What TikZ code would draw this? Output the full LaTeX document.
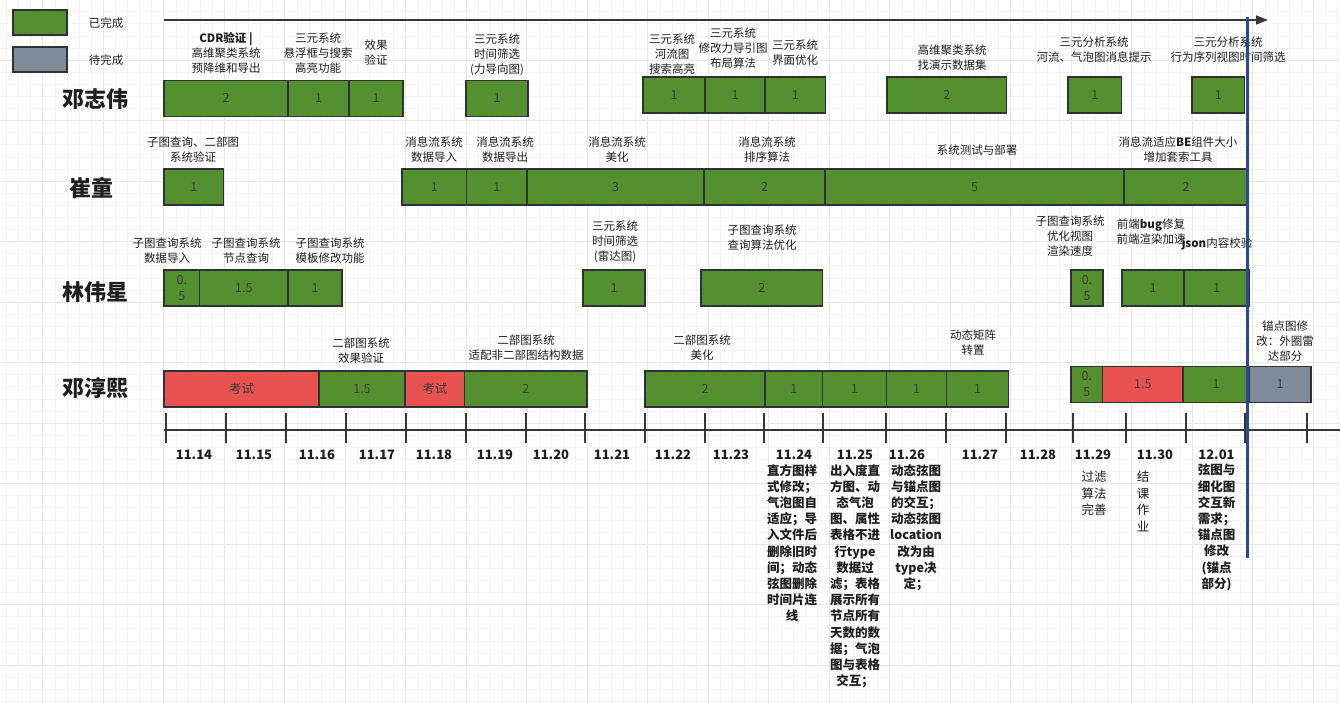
\documentclass[tikz,border=0pt]{standalone}
\usepackage{fontspec}
\setmainfont{Noto Sans CJK SC}
\usetikzlibrary{arrows.meta}
\definecolor{doneGreen}{RGB}{84,143,48}
\definecolor{todoGray}{RGB}{128,139,153}
\definecolor{examRed}{RGB}{232,82,80}
\definecolor{barEdge}{RGB}{45,50,50}
\definecolor{numGray}{RGB}{60,60,60}
\definecolor{labelDark}{RGB}{30,30,30}
\definecolor{axisDark}{RGB}{55,55,55}
\definecolor{nowBlue}{RGB}{48,68,165}
\definecolor{gridMinor}{RGB}{244,244,244}
\definecolor{gridMajor}{RGB}{230,230,230}

\begin{document}
\begin{tikzpicture}[x=1pt, y=-1pt,
    bar/.style={draw=barEdge, line width=1.2pt, minimum height=36, inner sep=0pt, align=center,
        text=numGray, font=\fontsize{12.5}{16}\selectfont},
    done/.style={bar, fill=doneGreen},
    todo/.style={bar, fill=todoGray},
    exam/.style={bar, fill=examRed},
    task/.style={align=center, inner sep=0pt, text=labelDark, font=\fontsize{11.5}{15}\selectfont},
    who/.style={text=labelDark, font=\fontsize{22}{26}\selectfont\bfseries},
    day/.style={text=labelDark, font=\fontsize{13}{16}\selectfont\bfseries},
    note/.style={align=center, anchor=north, inner sep=0pt, text=labelDark, font=\fontsize{12.5}{16.2}\selectfont\bfseries},
    tickmark/.style={draw=axisDark, line width=1.4pt}]
    \useasboundingbox (0,0) rectangle (1340,702);
    \fill[white] (0,0) rectangle (1340,702);

    % background grid
    \begin{scope}[shift={(6.4,-0.5)}]
        \draw[gridMinor, line width=0.6pt, step=12.1pt] (-12.1,-12.1) grid (1345,715);
    \end{scope}
    \begin{scope}[shift={(42.7,-0.5)}]
        \draw[gridMajor, line width=0.8pt, step=60.5pt] (-60.5,-60.5) grid (1340,720);
    \end{scope}

    % legend
    \node[done, minimum width=54, minimum height=25] (lg1) at (40,22.5) {};
    \node[task] (lt1) at (106,23) {已完成};
    \node[todo, minimum width=54, minimum height=25] (lg2) at (40,59.5) {};
    \node[task] (lt2) at (106,60) {待完成};

    % time arrow (top)
    \coordinate (ta) at (164,20);
    \coordinate (tb) at (1268,20);
    \draw[axisDark, line width=1.6pt, -{Triangle[length=12pt,width=9pt]}] (ta) -- (tb);

    % 邓志伟
    \node[who] (n1) at (95,99) {邓志伟};
    \node[done, minimum width=124] (z1) at (226,98.3) {2};
    \node[done, minimum width=61] (z2) at (318.5,98.3) {1};
    \node[done, minimum width=54] (z3) at (376,98.3) {1};
    \node[done, minimum width=62] (z4) at (497,98.3) {1};
    \node[done, minimum width=62] (z5) at (674,95) {1};
    \node[done, minimum width=60] (z6) at (735,95) {1};
    \node[done, minimum width=60.5] (z7) at (795.3,95) {1};
    \node[done, minimum width=119.5] (z8) at (946.8,95) {2};
    \node[done, minimum width=53.5] (z9) at (1094.8,95) {1};
    \node[done, minimum width=52.5] (z10) at (1218.3,95) {1};
    \node[task] (zt1) at (226,53) {\textbf{CDR验证 |}\\高维聚类系统\\预降维和导出};
    \node[task] (zt2) at (318,53) {三元系统\\悬浮框与搜索\\高亮功能};
    \node[task] (zt3) at (376,53) {效果\\验证};
    \node[task] (zt4) at (497,55) {三元系统\\时间筛选\\(力导向图)};
    \node[task] (zt5) at (672,54) {三元系统\\河流图\\搜索高亮};
    \node[task] (zt6) at (733,48) {三元系统\\修改力导引图\\布局算法};
    \node[task] (zt7) at (795,52.5) {三元系统\\界面优化};
    \node[task] (zt8) at (952,57.5) {高维聚类系统\\找演示数据集};
    \node[task] (zt9) at (1094,49.5) {三元分析系统\\河流、气泡图消息提示};
    \node[task] (zt10) at (1228,49.5) {三元分析系统\\行为序列视图时间筛选};

    % 崔童
    \node[who] (n2) at (91,188) {崔童};
    \node[done, minimum width=59.5] (c1) at (193.8,187) {1};
    \node[done, minimum width=64.5] (c2) at (434.3,187) {1};
    \node[done, minimum width=60.5] (c3) at (496.8,187) {1};
    \node[done, minimum width=177] (c4) at (615.5,187) {3};
    \node[done, minimum width=121] (c5) at (764.5,187) {2};
    \node[done, minimum width=299] (c6) at (974.5,187) {5};
    \node[done, minimum width=124] (c7) at (1186,187) {2};
    \node[task] (ct1) at (193,150) {子图查询、二部图\\系统验证};
    \node[task] (ct2) at (434,150) {消息流系统\\数据导入};
    \node[task] (ct3) at (505,150) {消息流系统\\数据导出};
    \node[task] (ct4) at (617,150) {消息流系统\\美化};
    \node[task] (ct5) at (767,150) {消息流系统\\排序算法};
    \node[task] (ct6) at (977,150) {系统测试与部署};
    \node[task] (ct7) at (1178,150) {消息流适应\textbf{BE}组件大小\\增加套索工具};

    % 林伟星
    \node[who] (n3) at (95,292) {林伟星};
    \node[done, minimum width=35.5] (l1) at (181.8,288) {0.\\5};
    \node[done, minimum width=88.5] (l2) at (243.8,288) {1.5};
    \node[done, minimum width=54] (l3) at (315,288) {1};
    \node[done, minimum width=62] (l4) at (614,288) {1};
    \node[done, minimum width=121.5] (l5) at (761.8,288) {2};
    \node[done, minimum width=32] (l6) at (1087,288) {0.\\5};
    \node[done, minimum width=62] (l7) at (1153,288) {1};
    \node[done, minimum width=65] (l8) at (1216.5,288) {1};
    \node[task] (lt3) at (167,250.5) {子图查询系统\\数据导入};
    \node[task] (lt4) at (246,250.5) {子图查询系统\\节点查询};
    \node[task] (lt5) at (330,250.5) {子图查询系统\\模板修改功能};
    \node[task] (lt6) at (615,242) {三元系统\\时间筛选\\(雷达图)};
    \node[task] (lt7) at (762,237.5) {子图查询系统\\查询算法优化};
    \node[task] (lt8) at (1070,236.5) {子图查询系统\\优化视图\\渲染速度};
    \node[task] (lt9) at (1151,231.5) {前端\textbf{bug}修复\\前端渲染加速};
    \node[task] (lt10) at (1217,244) {\textbf{json}内容校验};

    % 邓淳熙
    \node[who] (n4) at (95,388) {邓淳熙};
    \node[exam, minimum width=155] (d1) at (241.5,389) {考试};
    \node[done, minimum width=86] (d2) at (362,389) {1.5};
    \node[exam, minimum width=59.5] (d3) at (434.8,389) {考试};
    \node[done, minimum width=122.5] (d4) at (525.8,389) {2};
    \node[done, minimum width=120] (d5) at (705,389) {2};
    \node[done, minimum width=57.5] (d6) at (793.8,389) {1};
    \node[done, minimum width=64] (d7) at (854.5,389) {1};
    \node[done, minimum width=60] (d8) at (916.5,389) {1};
    \node[done, minimum width=62] (d9) at (977.5,389) {1};
    \node[done, minimum width=31.5] (d10) at (1086.8,384.5) {0.\\5};
    \node[exam, minimum width=80.5] (d11) at (1142.8,384.5) {1.5};
    \node[done, minimum width=66] (d12) at (1216,384.5) {1};
    \node[todo, minimum width=62] (d13) at (1280,384.5) {1};
    \node[task] (dt2) at (361,350.5) {二部图系统\\效果验证};
    \node[task] (dt4) at (526,347.5) {二部图系统\\适配非二部图结构数据};
    \node[task] (dt5) at (702,347.5) {二部图系统\\美化};
    \node[task] (dt9) at (973,343) {动态矩阵\\转置};
    \node[task] (dt13) at (1285,341) {锚点图修\\改：外圈雷\\达部分};

    % date axis
    \coordinate (aa) at (164,430);
    \coordinate (ab) at (1340,430);
    \draw[axisDark, line width=1.6pt] (aa) -- (ab);
    \foreach \x in {166,226,286,346,406,466,526,585,645,705,764,823,886,946,1006,1073,1126,1186,1245,1307}
        \draw[tickmark] (\x,413) -- (\x,443);
    \foreach \x/\d [count=\i] in {194/11.14,254/11.15,317/11.16,377/11.17,434/11.18,495/11.19,551/11.20,612/11.21,673/11.22,731/11.23,794/11.24,855/11.25,907/11.26,980/11.27,1038/11.28,1093/11.29,1155/11.30,1216.5/12.01}
        \node[day] (day\i) at (\x,455) {\d};

    % daily notes
    \node[note] (note24) at (792,464) {直方图样\\式修改；\\气泡图自\\适应；导\\入文件后\\删除旧时\\间；动态\\弦图删除\\时间片连\\线};
    \node[note] (note25) at (855,464) {出入度直\\方图、动\\态气泡\\图、属性\\表格不进\\行type\\数据过\\滤；表格\\展示所有\\节点所有\\天数的数\\据；气泡\\图与表格\\交互；};
    \node[note] (note26) at (916,464) {动态弦图\\与锚点图\\的交互；\\动态弦图\\location\\改为由\\type决\\定；};
    \node[note, font=\fontsize{12.5}{16.5}\selectfont] (note29) at (1094,471) {过滤\\算法\\完善};
    \node[note, font=\fontsize{12.5}{16.5}\selectfont] (note30) at (1143,471) {结\\课\\作\\业};
    \node[note] (note01) at (1216.5,464) {弦图与\\细化图\\交互新\\需求；\\锚点图\\修改\\(锚点\\部分)};

    % today line
    \coordinate (nowtop) at (1247.5,17);
    \coordinate (nowbot) at (1247.5,558);
    \draw[nowBlue, line width=3.8pt] (nowtop) -- (nowbot);
\end{tikzpicture}
\end{document}
